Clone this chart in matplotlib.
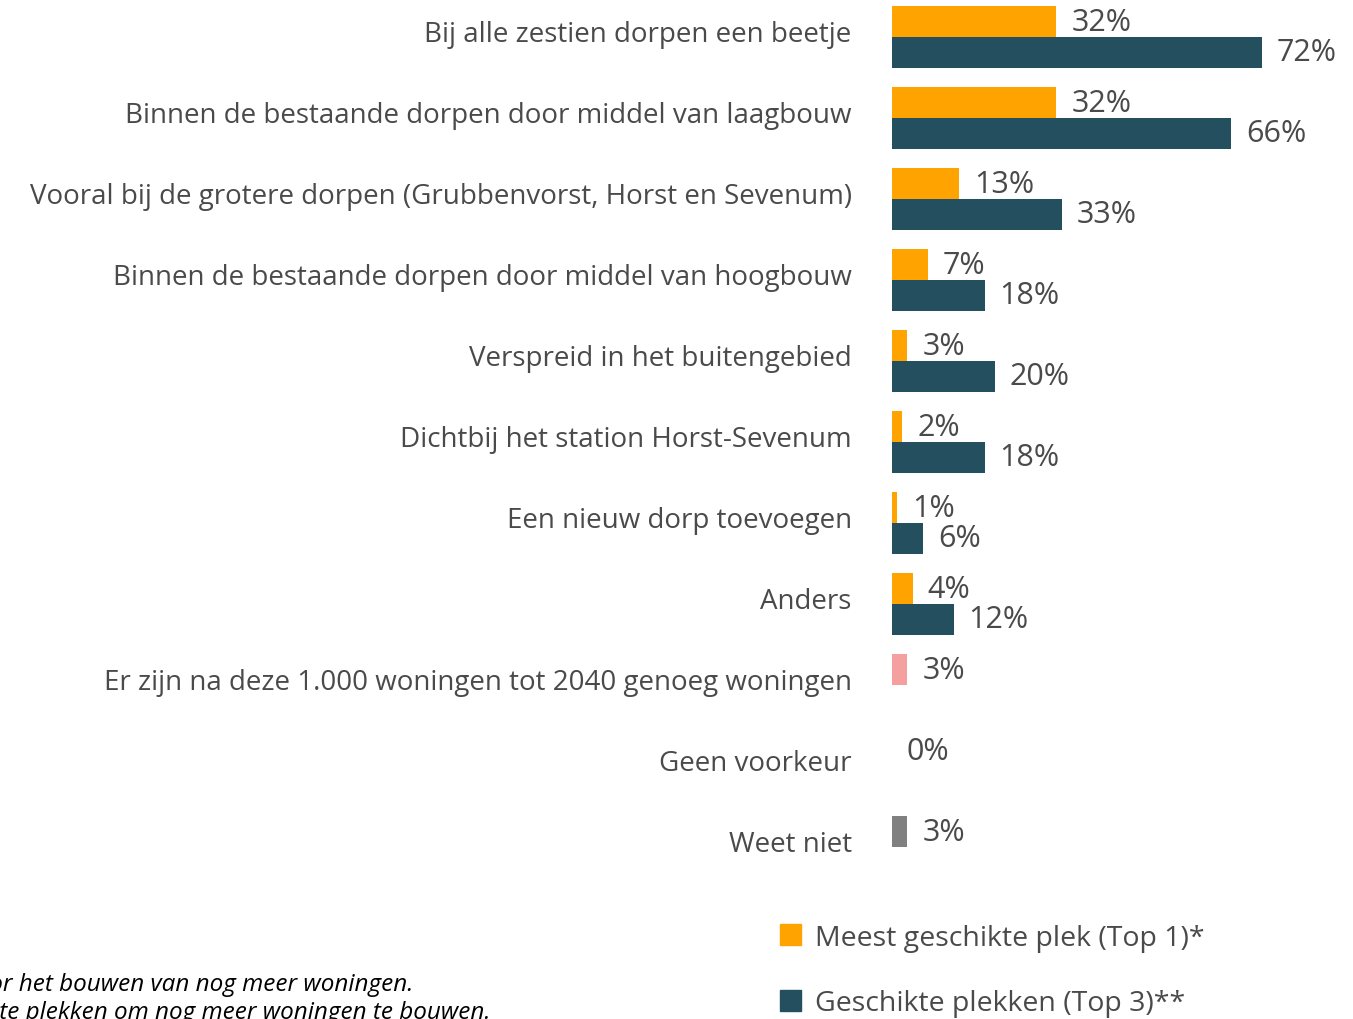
import matplotlib.pyplot as plt
from matplotlib.patches import Patch

# data
categories = [
    "Bij alle zestien dorpen een beetje",
    "Binnen de bestaande dorpen door middel van laagbouw",
    "Vooral bij de grotere dorpen (Grubbenvorst, Horst en Sevenum)",
    "Binnen de bestaande dorpen door middel van hoogbouw",
    "Verspreid in het buitengebied",
    "Dichtbij het station Horst-Sevenum",
    "Een nieuw dorp toevoegen",
    "Anders",
    "Er zijn na deze 1.000 woningen tot 2040 genoeg woningen",
    "Geen voorkeur",
    "Weet niet",
]
top1 = [32, 32, 13, 7, 3, 2, 1, 4, 3, 0, 3]
top3 = [72, 66, 33, 18, 20, 18, 6, 12, None, None, None]
legend_labels = ["Meest geschikte plek (Top 1)*", "Geschikte plekken (Top 3)**"]
footnotes = ["*Meest geschikte plek voor het bouwen van nog meer woningen.",
             "**Drie meest geschikte plekken om nog meer woningen te bouwen."]

ORANGE = "#FFA300"
TEAL = "#234F5E"
PINK = "#F4A09E"
GRAY = "#808080"
TXT = "#4a4a4a"

plt.rcParams['font.family'] = ['Open Sans', 'DejaVu Sans']

W, H = 1353, 1020
fig = plt.figure(figsize=(W / 100, H / 100), dpi=100)
ax = fig.add_axes([892 / W, 1 - 880 / H, (1350 - 892) / W, 880 / H])

px_per_pct = (1262 - 892) / 72
ax.set_xlim(0, (1350 - 892) / px_per_pct)
ax.set_ylim((880 - 38) / 81, -38 / 81)

bh = 0.38
off = 0.19
top1_colors = [ORANGE] * 8 + [PINK, ORANGE, GRAY]
ypos = list(range(len(categories)))
b1 = ax.barh([y - off for y in ypos], top1, height=bh, color=top1_colors)
t3_y = [y + off for y, v in zip(ypos, top3) if v is not None]
t3_v = [v for v in top3 if v is not None]
b3 = ax.barh(t3_y, t3_v, height=bh, color=TEAL)

gap = 15 / px_per_pct
for y, v in zip(ypos, top1):
    ax.text(v + gap, y - off, f"{v}%", va='center', ha='left', fontsize=22, color=TXT)
for y, v in zip(t3_y, t3_v):
    ax.text(v + gap, y, f"{v}%", va='center', ha='left', fontsize=22, color=TXT)

ax.set_yticks([y - 0.075 for y in ypos])
ax.set_yticklabels(categories, fontsize=20, color=TXT)
ax.tick_params(axis='y', length=0, pad=29)
ax.set_xticks([])
for s in ax.spines.values():
    s.set_visible(False)

handles = [Patch(color=ORANGE), Patch(color=TEAL)]
leg = fig.legend(handles, legend_labels, loc='upper left',
                 bbox_to_anchor=(754 / W, 1 - 899 / H), frameon=False,
                 fontsize=20.5, handlelength=0.75, handleheight=0.75,
                 handletextpad=0.5, labelspacing=1.33)
for t in leg.get_texts():
    t.set_color(TXT)

fig.text(413 / W, 1 - 985 / H, footnotes[0], ha='right', va='center',
         fontsize=17.5, style='italic', color='black')
fig.text(490 / W, 1 - 1013 / H, footnotes[1], ha='right', va='center',
         fontsize=17.5, style='italic', color='black')

fig.savefig("out.png", dpi=100)
